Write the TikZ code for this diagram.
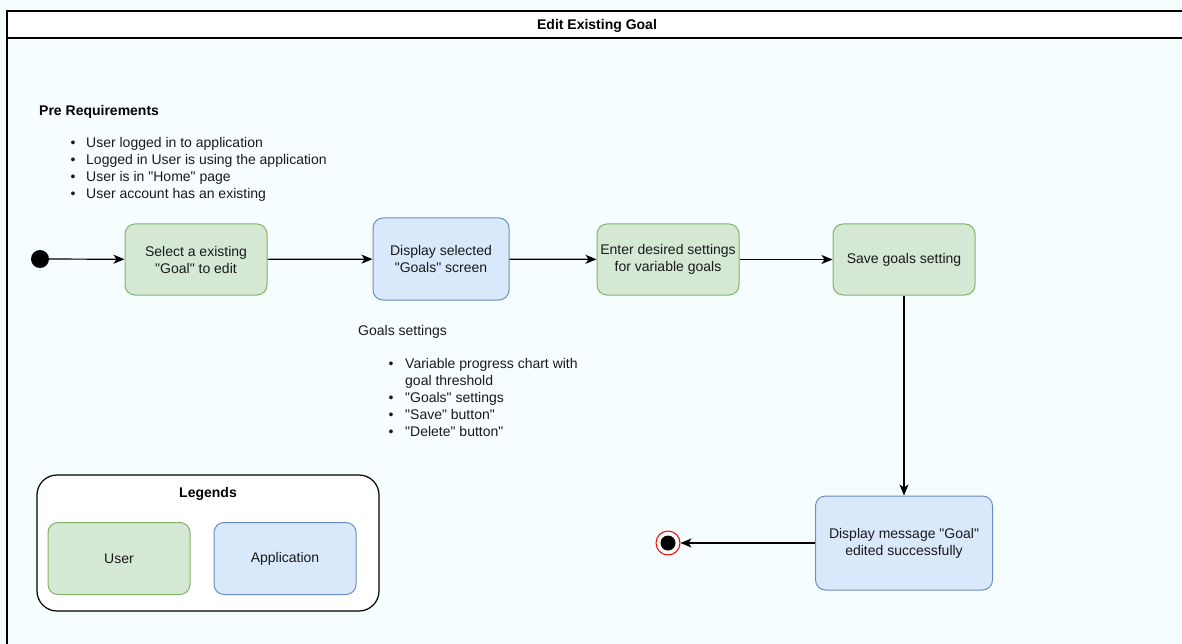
\documentclass[tikz,border=0pt]{standalone}
\usepackage{fontspec}
\setmainfont{Liberation Sans}
\usetikzlibrary{arrows.meta}

\definecolor{pagebg}{HTML}{F5FDFF}
\definecolor{userfill}{HTML}{D5E8D4}
\definecolor{userline}{HTML}{82B366}
\definecolor{appfill}{HTML}{DAE8FC}
\definecolor{appline}{HTML}{6C8EBF}
\definecolor{inktext}{HTML}{1A1A1A}

% straight double quote
\newcommand{\dq}{\textquotedbl}

\tikzset{
  txt/.style={font=\fontsize{14}{17}\selectfont, text=inktext},
  boldtxt/.style={font=\fontsize{14}{17}\selectfont\bfseries, text=black},
  userbox/.style={txt, draw=userline, fill=userfill, line width=1pt,
    rounded corners=10pt, align=center, inner sep=2pt},
  appbox/.style={txt, draw=appline, fill=appfill, line width=1pt,
    rounded corners=10pt, align=center, inner sep=2pt},
  conn/.style={draw=black, line width=1.2pt,
    -{Stealth[length=11pt, width=9pt, inset=3pt]}},
  bulletdot/.style={txt, anchor=base, inner sep=0pt},
  itemtxt/.style={txt, anchor=base west, inner sep=0pt},
}

\begin{document}
\begin{tikzpicture}[x=1pt, y=-1pt]
  \useasboundingbox (0,0) rectangle (1182,644);
  \fill[pagebg] (0,0) rectangle (1182,644);

  % swimlane frame with its header
  \draw[line width=1.4pt, fill=pagebg] (7,11) rectangle (1200,670);
  \draw[line width=1.4pt, fill=white] (7,11) rectangle (1200,38);
  \node[boldtxt] (title) at (597,25.5) {Edit Existing Goal};

  % preconditions
  \node[boldtxt, anchor=west, inner sep=0pt] (prehead) at (39,112) {Pre Requirements};
  \node[bulletdot] (pb1) at (73,147.4) {\textbullet};
  \node[bulletdot] (pb2) at (73,164.4) {\textbullet};
  \node[bulletdot] (pb3) at (73,181.4) {\textbullet};
  \node[bulletdot] (pb4) at (73,198.4) {\textbullet};
  \node[itemtxt] (pt1) at (86,147.4) {User logged in to application};
  \node[itemtxt] (pt2) at (86,164.4) {Logged in User is using the application};
  \node[itemtxt] (pt3) at (86,181.4) {User is in \dq Home\dq{} page};
  \node[itemtxt] (pt4) at (86,198.4) {User account has an existing};

  % main flow
  \node[circle, fill=black, minimum size=18pt, inner sep=0pt] (start) at (40,259) {};
  \node[userbox, minimum width=142pt, minimum height=71pt] (select) at (196,259.5)
    {Select a existing\\\dq Goal\dq{} to edit};
  \node[appbox, minimum width=136pt, minimum height=82pt] (display) at (441,259)
    {Display selected\\\dq Goals\dq{} screen};
  \node[userbox, minimum width=142pt, minimum height=71pt] (enter) at (668,259.5)
    {Enter desired settings\\for variable goals};
  \node[userbox, minimum width=142pt, minimum height=71pt] (save) at (904,259.5)
    {Save goals setting};
  \node[appbox, minimum width=177pt, minimum height=94pt] (message) at (904,543)
    {Display message \dq Goal\dq\\edited successfully};
  \node[circle, draw=red, fill=white, line width=1pt, minimum size=24pt, inner sep=0pt]
    (finish) at (668,543) {};
  \fill[black] (finish.center) circle (7.5pt);

  \draw[conn] (start) -- (select);
  \draw[conn] (select) -- (display);
  \draw[conn] (display) -- (enter);
  \draw[conn] (enter) -- (save);
  \draw[conn] (save) -- (message);
  \draw[conn] (message) -- (finish);

  % screen contents note
  \node[txt, anchor=west, inner sep=0pt] (goalshead) at (358,331.5) {Goals settings};
  \node[bulletdot] (gb1) at (391,368.9) {\textbullet};
  \node[bulletdot] (gb2) at (391,402.9) {\textbullet};
  \node[bulletdot] (gb3) at (391,419.9) {\textbullet};
  \node[bulletdot] (gb4) at (391,436.9) {\textbullet};
  \node[itemtxt] (gt1) at (405,368.9) {Variable progress chart with};
  \node[itemtxt] (gt1b) at (405,385.9) {goal threshold};
  \node[itemtxt] (gt2) at (405,402.9) {\dq Goals\dq{} settings};
  \node[itemtxt] (gt3) at (405,419.9) {\dq Save\dq{} button\dq};
  \node[itemtxt] (gt4) at (405,436.9) {\dq Delete\dq{} button\dq};

  % legend
  \draw[line width=1.2pt, fill=white, rounded corners=20pt] (37,475) rectangle (379,611);
  \node[boldtxt] (legendhead) at (208,493.5) {Legends};
  \node[userbox, minimum width=142pt, minimum height=72pt] (leguser) at (119,558.5) {User};
  \node[appbox, minimum width=142pt, minimum height=72pt] (legapp) at (285,558.5) {Application};
\end{tikzpicture}
\end{document}
